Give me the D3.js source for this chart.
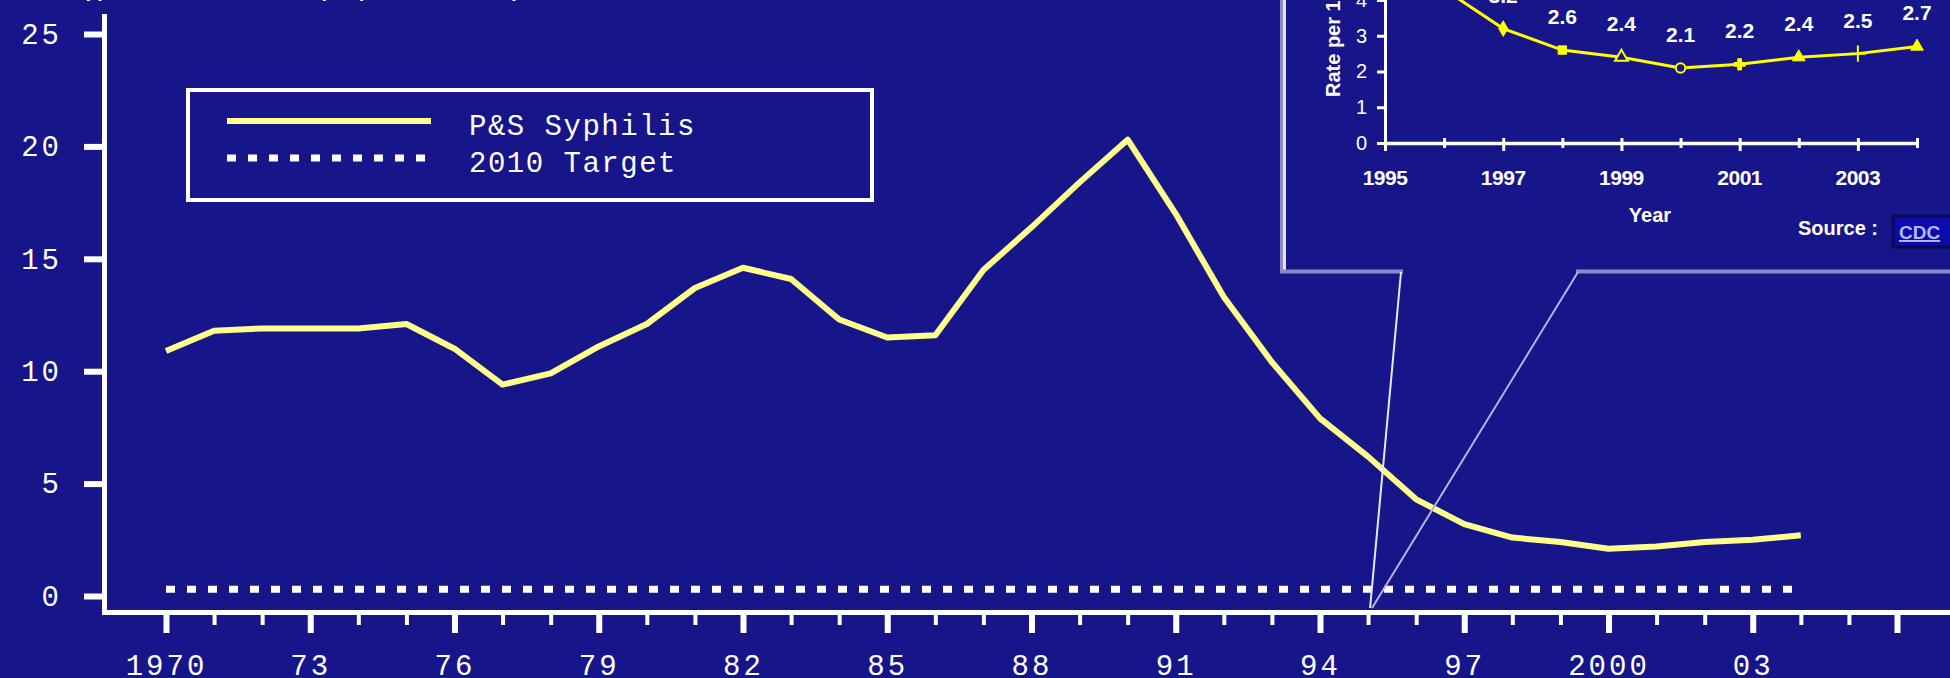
<!DOCTYPE html>
<html>
<head>
<meta charset="utf-8">
<script src="https://cdn.jsdelivr.net/npm/d3@7"></script>
<style>
  html, body { margin: 0; padding: 0; background: #17158a; }
  svg { display: block; }
</style>
</head>
<body>
<svg id="chart" width="1950" height="678"></svg>
<script>
// Primary & secondary syphilis, rate per 100,000 population, 1970-2004
const years = [1970, 1971, 1972, 1973, 1974, 1975, 1976, 1977, 1978, 1979,
               1980, 1981, 1982, 1983, 1984, 1985, 1986, 1987, 1988, 1989,
               1990, 1991, 1992, 1993, 1994, 1995, 1996, 1997, 1998, 1999,
               2000, 2001, 2002, 2003, 2004];
const rates = [10.9, 11.8, 11.9, 11.9, 11.9, 12.1, 11.0, 9.4, 9.9, 11.1,
               12.1, 13.7, 14.6, 14.1, 12.3, 11.5, 11.6, 14.5, 16.4, 18.4,
               20.3, 17.0, 13.3, 10.4, 7.9, 6.2, 4.3, 3.2, 2.6, 2.4,
               2.1, 2.2, 2.4, 2.5, 2.7];

// Healthy People 2010 target
const targetYears = [1970, 2004];
const targetValue = 0.3;

const yTicks = [0, 5, 10, 15, 20, 25];
const xMajorTicks = [1970, 1973, 1976, 1979, 1982, 1985, 1988, 1991, 1994, 1997, 2000, 2003, 2006];
const xMajorLabels = ["1970", "73", "76", "79", "82", "85", "88", "91", "94", "97", "2000", "03", ""];
const xMinorTicks = [1971, 1972, 1974, 1975, 1977, 1978, 1980, 1981, 1983, 1984, 1986, 1987,
                     1989, 1990, 1992, 1993, 1995, 1996, 1998, 1999, 2001, 2002, 2004, 2005];

const legendLabels = ["P&S Syphilis", "2010 Target"];
const titleText = "(per 100,000 population)";

// Close-up panel, 1995-2004
const insetYears = [1995, 1996, 1997, 1998, 1999, 2000, 2001, 2002, 2003, 2004];
const insetRates = [6.2, 4.3, 3.2, 2.6, 2.4, 2.1, 2.2, 2.4, 2.5, 2.7];
const insetMarkers = ["circle", "circle", "diamond", "square", "triangle", "circle",
                      "cross", "triangle", "plus", "triangle"];
const insetMarkerOpen = [false, false, false, false, true, true, false, false, false, false];
const insetYTicks = [0, 1, 2, 3, 4];
const insetXTicks = [1995, 1996, 1997, 1998, 1999, 2000, 2001, 2002, 2003, 2004];
const insetXLabels = [1995, 1997, 1999, 2001, 2003];

const BG = "#17158a";
const LINE = "#ffff8c";
const MONO = "'Liberation Mono', 'DejaVu Sans Mono', monospace";
const SANS = "'Liberation Sans', Arial, sans-serif";

const svg = d3.select("#chart");
svg.append("rect").attr("width", 1950).attr("height", 678).attr("fill", BG);

// ---------- main chart ----------
const x = d3.scaleLinear().domain([1970, 2006]).range([166, 1897]);
const y = d3.scaleLinear().domain([0, 25]).range([596, 34]);

// title line sitting just above the top edge
svg.append("text")
  .attr("x", 77).attr("y", -5)
  .attr("fill", "#fff")
  .style("font-family", MONO).style("font-size", "30px")
  .style("letter-spacing", "0.7px")
  .text(titleText);

// y axis
const gy = svg.append("g")
  .attr("transform", "translate(104,0)")
  .call(d3.axisLeft(y).tickValues(yTicks).tickSize(20).tickPadding(22).tickFormat(d3.format("d")));
gy.select(".domain").remove();
gy.selectAll(".tick line").attr("stroke", "#fff").attr("stroke-width", 6);
gy.selectAll(".tick text")
  .attr("fill", "#fff")
  .style("font-family", MONO).style("font-size", "29px")
  .style("letter-spacing", "3px");

// x axis: major ticks with labels
const gxMajor = svg.append("g")
  .attr("transform", "translate(0,615)")
  .call(d3.axisBottom(x).tickValues(xMajorTicks).tickSize(18).tickPadding(21)
    .tickFormat((d, i) => xMajorLabels[i]));
gxMajor.select(".domain").remove();
gxMajor.selectAll(".tick line").attr("stroke", "#fff").attr("stroke-width", 6);
gxMajor.selectAll(".tick text")
  .attr("fill", "#fff")
  .style("font-family", MONO).style("font-size", "29px")
  .style("letter-spacing", "3px");

// x axis: minor ticks
const gxMinor = svg.append("g")
  .attr("transform", "translate(0,615)")
  .call(d3.axisBottom(x).tickValues(xMinorTicks).tickSize(10).tickFormat(""));
gxMinor.select(".domain").remove();
gxMinor.selectAll(".tick line").attr("stroke", "#fff").attr("stroke-width", 4);

// axis lines
svg.append("line")
  .attr("x1", 104.5).attr("x2", 104.5).attr("y1", 14).attr("y2", 615)
  .attr("stroke", "#fff").attr("stroke-width", 5);
svg.append("line")
  .attr("x1", 102).attr("x2", 1950).attr("y1", 612.5).attr("y2", 612.5)
  .attr("stroke", "#fff").attr("stroke-width", 5);

// 2010 target
svg.append("line")
  .attr("x1", x(targetYears[0])).attr("x2", x(targetYears[1]))
  .attr("y1", y(targetValue)).attr("y2", y(targetValue))
  .attr("stroke", "#fff").attr("stroke-width", 7)
  .attr("stroke-dasharray", "9,12");

// P&S syphilis series
const series = years.map((yr, i) => ({ year: yr, rate: rates[i] }));
svg.append("path")
  .datum(series)
  .attr("fill", "none")
  .attr("stroke", LINE)
  .attr("stroke-width", 6)
  .attr("stroke-linejoin", "round")
  .attr("d", d3.line().x(d => x(d.year)).y(d => y(d.rate)));

// legend
const legend = svg.append("g");
legend.append("rect")
  .attr("x", 188).attr("y", 90).attr("width", 684).attr("height", 110)
  .attr("fill", "none").attr("stroke", "#fff").attr("stroke-width", 4);
legend.append("line")
  .attr("x1", 227).attr("x2", 431).attr("y1", 121).attr("y2", 121)
  .attr("stroke", LINE).attr("stroke-width", 6);
legend.append("line")
  .attr("x1", 227).attr("x2", 431).attr("y1", 158).attr("y2", 158)
  .attr("stroke", "#fff").attr("stroke-width", 7).attr("stroke-dasharray", "9,12");
legend.selectAll("text.lg")
  .data(legendLabels)
  .join("text")
  .attr("class", "lg")
  .attr("x", 469)
  .attr("y", (d, i) => 135 + i * 37)
  .attr("fill", "#fff")
  .style("font-family", MONO).style("font-size", "29px")
  .style("letter-spacing", "1.5px")
  .text(d => d);

// ---------- close-up panel ----------
const inset = svg.append("g");
const xi = d3.scaleLinear().domain([1995, 2004]).range([1385, 1917]);
const yi = d3.scaleLinear().domain([0, 4]).range([143, 0]);

// panel frame
inset.append("line")
  .attr("x1", 1281.5).attr("x2", 1281.5).attr("y1", -5).attr("y2", 273)
  .attr("stroke", "#8c8ac4").attr("stroke-width", 3);
inset.append("line")
  .attr("x1", 1284.5).attr("x2", 1284.5).attr("y1", -5).attr("y2", 270)
  .attr("stroke", "#e4e4f4").attr("stroke-width", 3);
inset.append("line")
  .attr("x1", 1280).attr("x2", 1403).attr("y1", 271.5).attr("y2", 271.5)
  .attr("stroke", "#8c8ac4").attr("stroke-width", 4);
inset.append("line")
  .attr("x1", 1576).attr("x2", 1950).attr("y1", 271.5).attr("y2", 271.5)
  .attr("stroke", "#8c8ac4").attr("stroke-width", 4);

// pointer lines down to 1995 on the main axis
inset.append("line")
  .attr("x1", 1401).attr("y1", 272).attr("x2", x(1995) + 2).attr("y2", 608)
  .attr("stroke", "#e8e8f8").attr("stroke-width", 2);
inset.append("line")
  .attr("x1", 1578).attr("y1", 272).attr("x2", x(1995) + 4).attr("y2", 608)
  .attr("stroke", "#b4b4e4").attr("stroke-width", 2);

// panel axes
const giy = inset.append("g")
  .attr("transform", "translate(1385,0)")
  .call(d3.axisLeft(yi).tickValues(insetYTicks).tickSize(8).tickPadding(10).tickFormat(d3.format("d")));
giy.select(".domain").remove();
giy.selectAll(".tick line").attr("stroke", "#fff").attr("stroke-width", 3);
giy.selectAll(".tick text")
  .attr("fill", "#fff")
  .style("font-family", SANS).style("font-size", "20px");

const gix = inset.append("g")
  .attr("transform", "translate(0,138)")
  .call(d3.axisBottom(xi).tickValues(insetXTicks).tickSize(0).tickFormat(""));
gix.select(".domain").remove();
gix.selectAll(".tick line")
  .attr("y1", 0)
  .attr("y2", d => (insetXLabels.includes(d) ? 13 : 10))
  .attr("stroke", "#fff").attr("stroke-width", 3);

inset.append("line")
  .attr("x1", 1385.5).attr("x2", 1385.5).attr("y1", -5).attr("y2", 145)
  .attr("stroke", "#fff").attr("stroke-width", 3);
inset.append("line")
  .attr("x1", 1384).attr("x2", 1918).attr("y1", 143.5).attr("y2", 143.5)
  .attr("stroke", "#fff").attr("stroke-width", 3.5);

inset.selectAll("text.ixl")
  .data(insetXLabels)
  .join("text")
  .attr("class", "ixl")
  .attr("x", d => xi(d))
  .attr("y", 185)
  .attr("text-anchor", "middle")
  .attr("fill", "#fff")
  .style("font-family", SANS).style("font-size", "21px").style("font-weight", "bold")
  .style("letter-spacing", "-0.5px")
  .text(d => d);

inset.append("text")
  .attr("x", 1650).attr("y", 222)
  .attr("text-anchor", "middle")
  .attr("fill", "#fff")
  .style("font-family", SANS).style("font-size", "20px").style("font-weight", "bold")
  .text("Year");

inset.append("text")
  .attr("transform", "translate(1340,97) rotate(-90)")
  .attr("fill", "#fff")
  .style("font-family", SANS).style("font-size", "20px").style("font-weight", "bold")
  .text("Rate per 100,000");

// panel series
const insetSeries = insetYears.map((yr, i) => ({
  year: yr, rate: insetRates[i], marker: insetMarkers[i], open: insetMarkerOpen[i]
}));
inset.append("path")
  .datum(insetSeries)
  .attr("fill", "none")
  .attr("stroke", "#ffff00")
  .attr("stroke-width", 3)
  .attr("d", d3.line().x(d => xi(d.year)).y(d => yi(d.rate)));

const symbolTypes = {
  circle: d3.symbolCircle, diamond: d3.symbolDiamond, square: d3.symbolSquare,
  triangle: d3.symbolTriangle, cross: d3.symbolCross, plus: d3.symbolPlus
};
inset.selectAll("path.mk")
  .data(insetSeries)
  .join("path")
  .attr("class", "mk")
  .attr("transform", d => `translate(${xi(d.year)},${yi(d.rate)})`)
  .attr("d", d => d3.symbol().type(symbolTypes[d.marker]).size(d.marker === "plus" ? 90 : 70)())
  .attr("fill", d => (d.open || d.marker === "plus") ? BG : "#ffff00")
  .attr("stroke", "#ffff00")
  .attr("stroke-width", d => (d.open || d.marker === "plus") ? 2 : 1);

inset.selectAll("text.vl")
  .data(insetSeries)
  .join("text")
  .attr("class", "vl")
  .attr("x", d => xi(d.year))
  .attr("y", d => yi(d.rate) - 26)
  .attr("text-anchor", "middle")
  .attr("fill", "#fff")
  .style("font-family", SANS).style("font-size", "21px").style("font-weight", "bold")
  .text(d => d3.format(".1f")(d.rate));

// source note with link button
inset.append("text")
  .attr("x", 1798).attr("y", 235)
  .attr("fill", "#fff")
  .style("font-family", SANS).style("font-size", "20px").style("font-weight", "bold")
  .text("Source :");
inset.append("rect")
  .attr("x", 1893).attr("y", 216).attr("width", 70).attr("height", 31)
  .attr("fill", "#0c0cae").attr("stroke", "#0a0a52").attr("stroke-width", 3);
inset.append("text")
  .attr("x", 1899).attr("y", 239)
  .attr("fill", "#b4bcff")
  .attr("text-decoration", "underline")
  .style("font-family", SANS).style("font-size", "19px").style("font-weight", "bold")
  .text("CDC");
</script>
</body>
</html>
